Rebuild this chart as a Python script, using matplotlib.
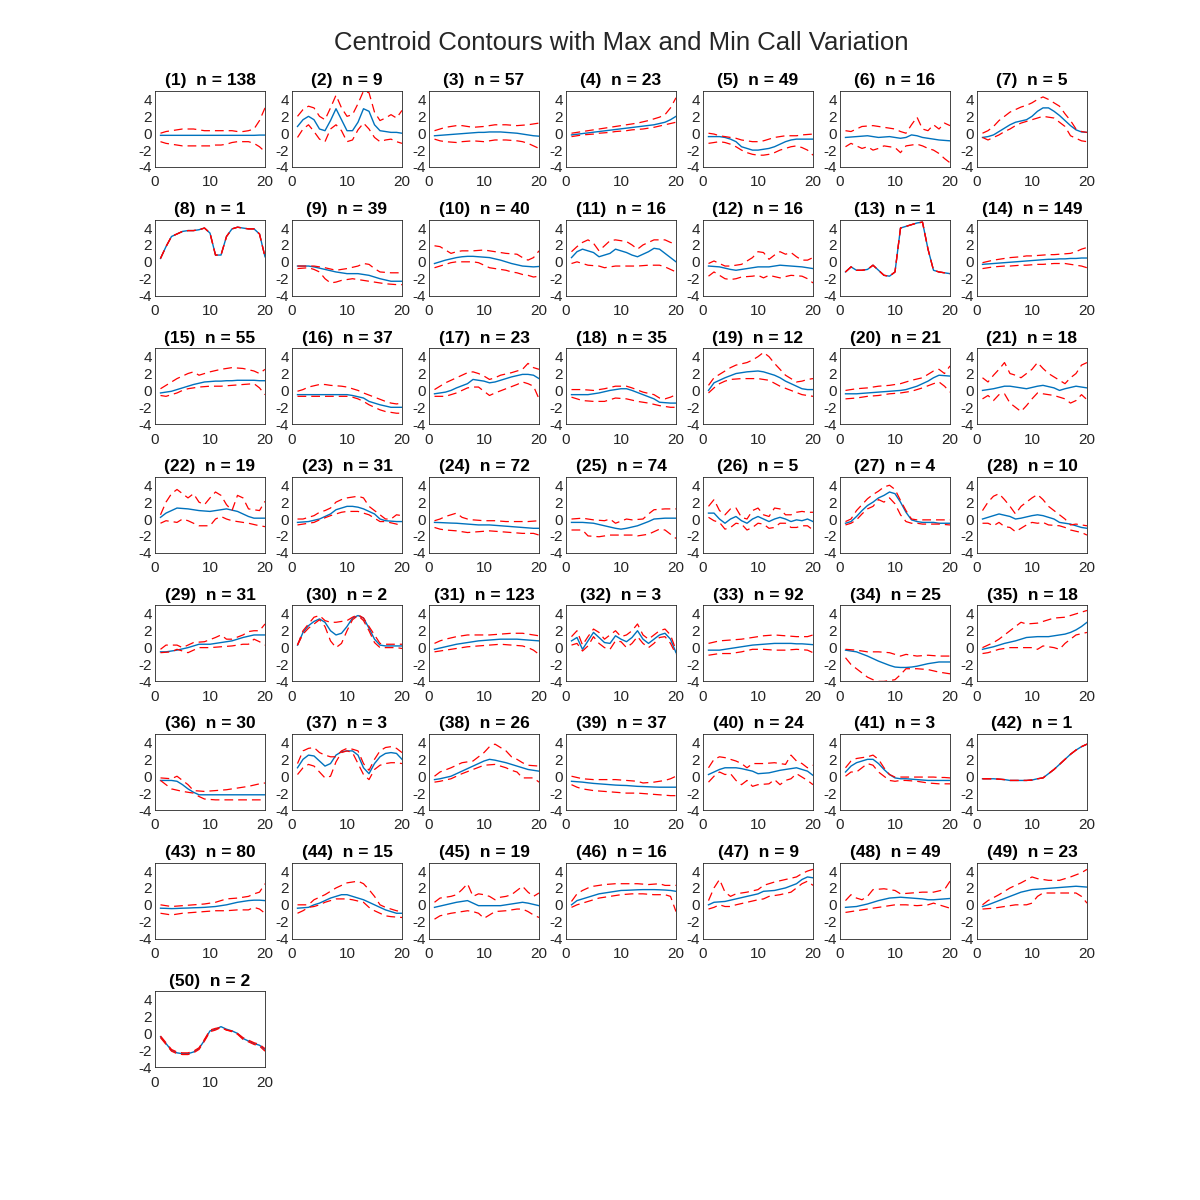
import matplotlib
matplotlib.use("Agg")
import matplotlib.pyplot as plt

plt.rcParams["font.family"] = ["Liberation Sans", "DejaVu Sans"]
plt.rcParams["axes.unicode_minus"] = False

# eje x comun: puntos del contorno 1..20
x = list(range(1, 21))

n_calls = [138, 9, 57, 23, 49, 16, 5, 1, 39, 40, 16, 16, 1, 149, 55, 37, 23, 35, 12, 21,
           18, 19, 31, 72, 74, 5, 4, 10, 31, 2, 123, 3, 92, 25, 18, 30, 3, 26, 37, 24,
           3, 1, 80, 15, 19, 16, 9, 49, 23, 2]

# centroide / maximo / minimo de cada grupo
cen_01 = [-0.25]*18 + [-0.22, -0.22]
max_01 = [0.0, 0.2, 0.3, 0.4, 0.5, 0.5, 0.5, 0.4, 0.3, 0.3, 0.3, 0.3, 0.3, 0.3, 0.2, 0.2, 0.3, 0.5, 1.5, 3.0]
min_01 = [-1.0, -1.2, -1.3, -1.4, -1.5, -1.5, -1.5, -1.5, -1.5, -1.5, -1.4, -1.4, -1.3, -1.1, -1.0, -1.0, -1.0, -1.2, -1.6, -2.2]

cen_02 = [0.8, 1.6, 2.0, 1.6, 0.5, 0.3, 1.5, 2.9, 1.6, 0.3, 0.3, 1.3, 2.9, 2.6, 1.0, 0.3, 0.2, 0.1, 0.1, 0.0]
max_02 = [2.0, 2.8, 3.2, 3.0, 2.0, 1.6, 3.0, 4.5, 3.0, 2.0, 2.2, 3.5, 5.0, 4.8, 2.5, 1.5, 1.8, 2.2, 1.8, 2.7]
min_02 = [-0.5, 0.5, 1.0, 0.2, -0.7, -1.0, 0.5, 1.0, 0.3, -1.0, -0.8, 0.4, 1.2, 0.5, -0.5, -1.0, -0.8, -0.7, -1.0, -1.2]

cen_03 = [-0.3, -0.25, -0.2, -0.15, -0.1, -0.05, 0.0, 0.05, 0.1, 0.1, 0.15, 0.15, 0.15, 0.1, 0.05, 0.0, -0.1, -0.2, -0.3, -0.35]
max_03 = [0.3, 0.5, 0.7, 0.8, 0.9, 0.9, 0.8, 0.7, 0.75, 0.8, 0.9, 1.0, 1.0, 1.0, 0.95, 0.9, 0.95, 1.0, 1.1, 1.2]
min_03 = [-0.7, -0.9, -1.0, -1.05, -1.1, -1.0, -0.95, -0.9, -0.95, -1.0, -0.9, -0.8, -0.8, -0.8, -0.85, -0.9, -1.0, -1.2, -1.5, -1.8]

cen_04 = [-0.2, -0.12, -0.04, 0.04, 0.12, 0.2, 0.28, 0.36, 0.44, 0.52, 0.6, 0.68, 0.76, 0.84, 0.92, 1.0, 1.15, 1.3, 1.6, 2.0]
max_04 = [0.0, 0.1, 0.2, 0.3, 0.4, 0.5, 0.6, 0.7, 0.8, 0.9, 1.0, 1.1, 1.2, 1.35, 1.5, 1.7, 1.9, 2.2, 3.0, 4.2]
min_04 = [-0.4, -0.3, -0.2, -0.15, -0.1, 0.0, 0.05, 0.1, 0.2, 0.25, 0.3, 0.4, 0.45, 0.5, 0.6, 0.7, 0.85, 1.0, 1.15, 1.3]

cen_05 = [-0.4, -0.4, -0.4, -0.5, -0.7, -1.0, -1.6, -1.8, -2.0, -2.0, -1.9, -1.8, -1.6, -1.3, -1.0, -0.8, -0.7, -0.7, -0.7, -0.7]
max_05 = [0.0, -0.1, -0.3, -0.4, -0.5, -0.6, -0.8, -0.9, -1.0, -1.0, -0.9, -0.7, -0.5, -0.4, -0.3, -0.3, -0.3, -0.2, -0.15, -0.1]
min_05 = [-1.2, -1.1, -1.0, -1.1, -1.3, -1.6, -2.0, -2.3, -2.5, -2.6, -2.6, -2.5, -2.3, -2.0, -1.8, -1.6, -1.5, -1.7, -2.0, -2.6]

cen_06 = [-0.5, -0.45, -0.4, -0.35, -0.3, -0.4, -0.5, -0.45, -0.4, -0.5, -0.6, -0.5, -0.2, -0.3, -0.5, -0.6, -0.7, -0.8, -0.85, -0.9]
max_06 = [0.3, 0.2, 0.5, 0.8, 0.85, 0.9, 0.8, 0.7, 0.6, 0.5, 0.2, 0.0, 1.0, 1.9, 0.5, 0.3, 1.0, 0.5, 1.2, 0.9]
min_06 = [-1.6, -1.2, -1.5, -1.8, -1.6, -2.0, -1.8, -1.5, -1.6, -1.7, -2.3, -1.5, -1.4, -1.3, -1.5, -1.8, -2.0, -2.4, -3.0, -3.5]

cen_07 = [-0.5, -0.4, -0.2, 0.2, 0.6, 1.0, 1.3, 1.45, 1.6, 2.0, 2.6, 3.0, 3.0, 2.6, 2.1, 1.5, 0.9, 0.4, 0.15, 0.1]
max_07 = [0.0, 0.3, 0.8, 1.5, 2.0, 2.5, 2.8, 3.1, 3.3, 3.6, 4.0, 4.3, 4.0, 3.6, 3.2, 2.3, 1.5, 0.5, 0.2, 0.1]
min_07 = [-0.5, -0.8, -0.5, -0.2, 0.2, 0.5, 0.9, 1.2, 1.4, 1.6, 1.8, 2.0, 1.9, 1.8, 1.3, 0.8, -0.3, -0.6, -0.9, -1.0]

cen_08 = [0.4, 1.8, 3.0, 3.3, 3.6, 3.7, 3.7, 3.8, 4.0, 3.4, 0.8, 0.8, 3.0, 3.9, 4.1, 4.0, 3.9, 3.9, 3.3, 0.6]
max_08 = cen_08
min_08 = cen_08

cen_09 = [-0.5, -0.5, -0.5, -0.6, -0.75, -0.9, -1.05, -1.2, -1.3, -1.4, -1.4, -1.4, -1.5, -1.6, -1.8, -2.0, -2.15, -2.3, -2.3, -2.3]
max_09 = [-0.5, -0.5, -0.5, -0.5, -0.6, -0.7, -0.85, -1.0, -0.9, -0.8, -0.65, -0.5, -0.2, -0.3, -0.8, -1.2, -1.25, -1.3, -1.3, -1.3]
min_09 = [-0.8, -0.75, -0.7, -0.9, -1.2, -2.0, -2.5, -2.4, -2.2, -2.1, -2.0, -2.1, -2.2, -2.3, -2.4, -2.5, -2.6, -2.65, -2.7, -2.7]

cen_10 = [-0.2, 0.0, 0.2, 0.35, 0.5, 0.6, 0.65, 0.65, 0.6, 0.55, 0.5, 0.35, 0.2, 0.0, -0.2, -0.35, -0.5, -0.55, -0.6, -0.55]
max_10 = [1.9, 1.8, 1.4, 1.0, 1.2, 1.3, 1.3, 1.3, 1.35, 1.4, 1.3, 1.2, 1.1, 1.0, 0.95, 0.9, 0.5, 0.2, 0.5, 1.3]
min_10 = [-0.7, -0.5, -0.3, -0.1, 0.0, 0.0, 0.0, 0.0, -0.1, -0.4, -0.7, -0.8, -0.9, -1.0, -1.2, -1.3, -1.5, -1.6, -1.8, -1.7]

cen_11 = [0.5, 1.2, 1.5, 1.3, 1.1, 0.6, 0.8, 1.0, 1.5, 1.3, 1.1, 0.8, 0.6, 0.9, 1.2, 1.6, 1.5, 1.0, 0.5, 0.0]
max_11 = [1.2, 1.8, 2.3, 2.6, 2.2, 1.3, 1.9, 2.5, 2.6, 2.5, 2.4, 2.0, 1.5, 2.0, 2.3, 2.6, 2.6, 2.6, 2.3, 2.1]
min_11 = [-0.2, 0.0, -0.2, -0.4, -0.45, -0.5, -0.7, -0.6, -0.5, -0.5, -0.5, -0.5, -0.5, -0.45, -0.4, -0.4, -0.4, -0.6, -0.9, -1.2]

cen_12 = [-0.5, -0.55, -0.6, -0.75, -0.9, -1.0, -0.9, -0.8, -0.7, -0.6, -0.6, -0.6, -0.5, -0.4, -0.45, -0.5, -0.55, -0.6, -0.7, -0.8]
max_12 = [-0.2, 0.1, -0.2, -0.5, -0.5, -0.4, -0.3, 0.1, 0.5, 1.2, 1.1, 0.3, 0.8, 1.2, 0.9, 1.1, 0.6, 0.2, 0.2, 0.5]
min_12 = [-1.7, -1.2, -1.6, -2.0, -2.1, -2.0, -1.8, -1.75, -1.7, -1.6, -1.9, -1.6, -1.75, -1.9, -1.75, -1.6, -1.65, -1.7, -2.0, -2.5]

cen_13 = [-1.2, -0.6, -1.0, -1.0, -0.9, -0.4, -1.0, -1.6, -1.7, -1.2, 4.0, 4.2, 4.4, 4.6, 4.7, 1.5, -1.0, -1.2, -1.3, -1.4]
max_13 = cen_13
min_13 = cen_13

cen_14 = [-0.3, -0.25, -0.2, -0.15, -0.1, -0.05, 0.0, 0.05, 0.1, 0.15, 0.2, 0.25, 0.3, 0.3, 0.35, 0.35, 0.4, 0.4, 0.45, 0.45]
max_14 = [-0.1, 0.05, 0.2, 0.3, 0.4, 0.5, 0.55, 0.6, 0.7, 0.7, 0.75, 0.8, 0.85, 0.85, 0.9, 0.95, 1.0, 1.2, 1.5, 1.7]
min_14 = [-0.8, -0.7, -0.6, -0.55, -0.5, -0.5, -0.45, -0.4, -0.4, -0.35, -0.3, -0.3, -0.25, -0.2, -0.2, -0.2, -0.3, -0.4, -0.5, -0.7]

cen_15 = [-0.3, -0.2, -0.1, 0.1, 0.3, 0.5, 0.7, 0.85, 1.0, 1.05, 1.1, 1.1, 1.15, 1.15, 1.2, 1.2, 1.2, 1.2, 1.15, 1.15]
max_15 = [0.2, 0.6, 1.0, 1.4, 1.7, 2.0, 2.2, 1.8, 2.0, 2.2, 2.35, 2.5, 2.6, 2.7, 2.65, 2.6, 2.45, 2.3, 2.0, 2.5]
min_15 = [-0.6, -0.7, -0.5, -0.3, 0.0, 0.2, 0.3, 0.4, 0.45, 0.5, 0.5, 0.5, 0.55, 0.6, 0.65, 0.7, 0.75, 0.8, 0.3, -0.5]

cen_16 = [-0.5]*10 + [-0.6, -0.75, -0.9, -1.3, -1.5, -1.7, -1.85, -2.0, -2.0, -2.0]
max_16 = [-0.1, 0.1, 0.4, 0.55, 0.7, 0.7, 0.6, 0.55, 0.5, 0.4, 0.2, 0.0, -0.3, -0.55, -0.8, -1.05, -1.3, -1.5, -1.6, -1.5]
min_16 = [-0.7]*10 + [-0.8, -1.0, -1.3, -1.7, -2.0, -2.3, -2.5, -2.6, -2.7, -2.7]

cen_17 = [-0.4, -0.3, -0.2, 0.0, 0.3, 0.55, 0.8, 1.3, 1.2, 1.1, 0.9, 1.0, 1.2, 1.4, 1.6, 1.75, 1.9, 1.9, 1.8, 1.4]
max_17 = [0.1, 0.5, 0.9, 1.2, 1.5, 1.8, 2.1, 2.2, 2.0, 1.7, 1.3, 1.5, 1.8, 1.95, 2.1, 2.3, 2.5, 3.2, 2.7, 2.5]
min_17 = [-0.7, -0.7, -0.7, -0.5, -0.3, 0.0, 0.3, 0.4, 0.4, -0.1, -0.6, -0.3, -0.05, 0.2, 0.45, 0.7, 1.0, 0.8, 0.5, -1.0]

cen_18 = [-0.5, -0.5, -0.5, -0.5, -0.4, -0.3, -0.15, 0.0, 0.1, 0.2, 0.2, 0.0, -0.25, -0.5, -0.75, -1.0, -1.4, -1.45, -1.5, -1.5]
max_18 = [0.1, 0.1, 0.1, 0.05, 0.0, 0.1, 0.2, 0.35, 0.5, 0.5, 0.5, 0.3, 0.05, -0.2, -0.35, -0.5, -0.9, -1.0, -0.8, -0.5]
min_18 = [-0.8, -1.0, -1.2, -1.25, -1.3, -1.3, -1.3, -1.1, -0.9, -0.95, -1.0, -1.15, -1.3, -1.4, -1.5, -1.65, -1.8, -1.9, -2.0, -2.0]

cen_19 = [0.0, 0.9, 1.2, 1.5, 1.75, 2.0, 2.1, 2.2, 2.25, 2.3, 2.2, 2.0, 1.8, 1.5, 1.1, 0.8, 0.5, 0.2, 0.1, 0.1]
max_19 = [0.6, 1.5, 1.9, 2.3, 2.7, 3.0, 3.15, 3.3, 3.6, 4.0, 4.5, 4.0, 3.2, 2.5, 1.8, 1.4, 1.0, 1.1, 1.3, 1.4]
min_19 = [-0.3, 0.3, 0.8, 1.1, 1.3, 1.35, 1.4, 1.4, 1.4, 1.4, 1.3, 1.2, 0.85, 0.5, 0.25, 0.0, -0.25, -0.5, -0.6, -0.7]

cen_20 = [-0.4, -0.4, -0.4, -0.35, -0.3, -0.25, -0.2, -0.15, -0.1, -0.05, 0.0, 0.1, 0.3, 0.5, 0.8, 1.1, 1.5, 1.8, 1.75, 1.7]
max_20 = [0.0, 0.1, 0.2, 0.25, 0.3, 0.4, 0.5, 0.55, 0.6, 0.7, 0.8, 1.0, 1.2, 1.35, 1.5, 1.9, 2.3, 2.5, 2.0, 2.9]
min_20 = [-1.0, -0.95, -0.9, -0.8, -0.7, -0.65, -0.6, -0.5, -0.4, -0.35, -0.3, -0.2, -0.1, 0.1, 0.3, 0.55, 0.8, 1.0, 0.5, -0.2]

cen_21 = [0.0, 0.1, 0.2, 0.35, 0.5, 0.5, 0.4, 0.3, 0.2, 0.35, 0.5, 0.6, 0.45, 0.3, 0.0, 0.2, 0.35, 0.5, 0.4, 0.3]
max_21 = [1.5, 1.0, 1.8, 2.5, 3.3, 2.0, 1.8, 1.5, 2.0, 2.5, 3.3, 2.6, 2.0, 1.6, 1.2, 0.8, 1.5, 2.0, 3.0, 3.3]
min_21 = [-1.0, -0.6, -1.2, -0.5, -0.4, -1.5, -2.0, -2.5, -1.8, -1.0, -0.3, -0.4, -0.5, -0.6, -0.8, -1.0, -1.5, -1.2, -0.5, -1.1]

cen_22 = [0.2, 0.7, 1.0, 1.3, 1.25, 1.2, 1.1, 1.0, 0.95, 0.9, 1.0, 1.1, 1.2, 1.05, 0.9, 0.6, 0.3, 0.1, 0.1, 0.1]
max_22 = [0.5, 2.0, 3.0, 3.5, 3.0, 2.5, 3.0, 2.0, 1.7, 2.5, 3.2, 2.8, 1.7, 1.0, 2.8, 2.5, 1.2, 1.1, 1.0, 2.1]
min_22 = [-0.5, -0.2, -0.3, -0.4, 0.0, -0.2, -0.5, -0.8, -0.8, -0.8, 0.0, 0.3, 0.0, -0.2, -0.3, -0.4, -0.5, -0.65, -0.8, -0.9]

cen_23 = [-0.4, -0.35, -0.3, -0.15, 0.0, 0.3, 0.6, 1.1, 1.3, 1.5, 1.5, 1.4, 1.2, 0.9, 0.6, 0.0, -0.2, -0.25, -0.3, -0.3]
max_23 = [0.0, 0.0, 0.2, 0.4, 0.8, 1.0, 1.3, 2.0, 2.3, 2.5, 2.6, 2.7, 2.5, 1.5, 1.0, 0.5, 0.0, 0.0, 0.5, 0.4]
min_23 = [-0.7, -0.6, -0.5, -0.4, -0.1, 0.15, 0.4, 0.6, 0.8, 0.9, 0.9, 0.9, 0.7, 0.5, 0.1, -0.3, -0.3, -0.45, -0.6, -0.8]

cen_24 = [-0.4, -0.42, -0.45, -0.48, -0.5, -0.55, -0.6, -0.65, -0.7, -0.7, -0.7, -0.75, -0.8, -0.85, -0.9, -0.95, -1.0, -1.05, -1.1, -1.1]
max_24 = [-0.2, 0.0, 0.3, 0.5, 0.7, 0.2, 0.0, -0.1, -0.15, -0.2, -0.2, -0.2, -0.25, -0.3, -0.3, -0.3, -0.3, -0.3, -0.25, -0.2]
min_24 = [-1.0, -1.2, -1.3, -1.35, -1.4, -1.5, -1.6, -1.55, -1.5, -1.45, -1.4, -1.45, -1.5, -1.55, -1.6, -1.65, -1.7, -1.7, -1.7, -1.9]

cen_25 = [-0.4, -0.4, -0.4, -0.45, -0.5, -0.65, -0.8, -0.95, -1.1, -1.2, -1.1, -0.95, -0.8, -0.55, -0.3, 0.0, 0.05, 0.1, 0.1, 0.1]
max_25 = [0.0, 0.05, 0.1, 0.0, -0.1, -0.15, -0.2, 0.0, -0.5, -0.25, 0.0, -0.1, -0.05, 0.0, 0.6, 1.1, 1.15, 1.2, 1.2, 1.2]
min_25 = [-1.3, -1.3, -1.3, -2.0, -2.05, -2.1, -2.0, -1.9, -1.9, -1.9, -1.9, -1.9, -2.0, -1.9, -1.8, -1.5, -1.2, -1.3, -1.8, -2.3]

cen_26 = [0.7, 0.7, 0.0, -0.5, 0.0, 0.3, -0.2, -0.5, 0.0, 0.3, 0.0, -0.3, 0.0, 0.2, 0.0, -0.3, -0.1, -0.2, 0.0, -0.3]
max_26 = [1.5, 2.3, 1.0, 0.5, 1.2, 1.3, 0.2, 0.0, 1.0, 1.3, 0.5, 0.3, 1.3, 1.2, 0.5, 0.5, 0.8, 0.9, 0.8, 0.8]
min_26 = [0.2, -0.2, -0.4, -1.2, -1.0, -0.5, -0.6, -1.3, -1.0, -0.5, -0.6, -1.1, -1.0, -0.5, -0.5, -1.0, -1.0, -0.8, -0.8, -1.3]

cen_27 = [-0.5, -0.3, 0.3, 1.0, 1.6, 2.0, 2.5, 2.8, 3.2, 3.0, 2.0, 0.8, -0.1, -0.3, -0.4, -0.4, -0.4, -0.5, -0.5, -0.5]
max_27 = [-0.3, 0.0, 1.0, 1.7, 2.4, 2.9, 3.3, 3.8, 4.0, 3.5, 2.2, 1.0, 0.0, -0.1, -0.1, -0.1, -0.1, -0.1, -0.1, -0.1]
min_27 = [-0.7, -0.5, -0.1, 0.6, 1.2, 1.5, 2.3, 2.0, 2.5, 1.8, 0.5, -0.3, -0.5, -0.5, -0.6, -0.6, -0.6, -0.6, -0.65, -0.7]

cen_28 = [0.0, 0.2, 0.4, 0.6, 0.45, 0.3, 0.0, 0.1, 0.25, 0.4, 0.5, 0.4, 0.2, 0.0, -0.4, -0.5, -0.6, -0.8, -1.0, -1.1]
max_28 = [1.0, 2.0, 2.7, 3.0, 2.3, 1.5, 0.6, 1.5, 2.0, 2.5, 2.9, 2.3, 1.5, 1.0, 0.5, 0.0, -0.7, -0.6, -0.7, -0.8]
min_28 = [-0.5, -0.5, -0.8, -0.4, -0.9, -1.0, -1.5, -1.1, -0.7, -0.4, -0.5, -0.4, -0.7, -0.75, -0.8, -1.0, -1.3, -1.45, -1.6, -1.9]

cen_29 = [-0.5, -0.5, -0.4, -0.3, -0.15, 0.0, 0.2, 0.4, 0.4, 0.4, 0.5, 0.6, 0.7, 0.8, 1.0, 1.2, 1.35, 1.5, 1.5, 1.5]
max_29 = [-0.2, 0.3, 0.3, 0.3, 0.0, 0.3, 0.6, 0.65, 0.7, 0.95, 1.2, 1.5, 1.0, 1.0, 1.25, 1.5, 1.9, 2.0, 2.0, 2.8]
min_29 = [-0.6, -0.55, -0.5, -0.2, -0.4, -0.6, -0.3, 0.0, 0.0, 0.0, 0.05, 0.1, 0.15, 0.2, 0.3, 0.4, 0.4, 1.0, 0.7, 0.3]

cen_30 = [0.3, 1.8, 2.6, 3.1, 3.4, 3.0, 2.0, 1.5, 1.7, 2.5, 3.5, 3.8, 3.5, 2.3, 1.0, 0.3, 0.2, 0.2, 0.2, 0.2]
max_30 = [0.3, 2.0, 2.8, 3.6, 3.8, 3.2, 3.0, 3.0, 3.1, 3.2, 3.6, 3.9, 3.5, 2.5, 1.5, 0.5, 0.4, 0.4, 0.4, 0.4]
min_30 = [0.3, 1.6, 2.3, 2.8, 3.3, 2.5, 0.8, 0.0, 0.5, 2.0, 3.3, 3.8, 3.2, 2.0, 0.6, 0.0, 0.0, 0.0, 0.0, -0.1]

cen_31 = [-0.2, -0.05, 0.1, 0.25, 0.4, 0.5, 0.6, 0.7, 0.8, 0.85, 0.9, 0.95, 1.0, 1.0, 1.0, 1.0, 0.95, 0.9, 0.85, 0.8]
max_31 = [0.5, 0.8, 1.0, 1.15, 1.3, 1.4, 1.5, 1.5, 1.5, 1.5, 1.5, 1.55, 1.6, 1.65, 1.7, 1.7, 1.7, 1.6, 1.5, 1.4]
min_31 = [-0.5, -0.4, -0.3, -0.2, -0.1, 0.0, 0.1, 0.15, 0.2, 0.25, 0.3, 0.35, 0.4, 0.35, 0.3, 0.25, 0.2, 0.0, -0.3, -0.8]

cen_32 = [0.8, 1.2, -0.2, 0.8, 1.8, 1.2, 0.6, 0.5, 1.4, 1.0, 0.7, 1.2, 2.0, 1.0, 0.5, 1.0, 1.5, 1.7, 1.0, -0.6]
max_32 = [1.3, 2.0, 0.3, 1.3, 2.2, 1.8, 1.0, 1.5, 2.0, 1.3, 1.5, 2.0, 2.8, 1.5, 1.0, 1.5, 2.0, 2.2, 1.5, -0.3]
min_32 = [0.3, 0.5, -0.4, 0.2, 1.3, 0.5, 0.0, -0.2, 0.8, 0.7, 0.0, 0.5, 1.3, 0.5, 0.0, 0.5, 1.2, 1.3, 0.5, -0.8]

cen_33 = [-0.3, -0.3, -0.3, -0.2, -0.1, 0.0, 0.1, 0.2, 0.3, 0.35, 0.4, 0.45, 0.5, 0.5, 0.5, 0.5, 0.45, 0.45, 0.4, 0.35]
max_33 = [0.5, 0.65, 0.8, 0.85, 0.9, 0.95, 1.0, 1.1, 1.2, 1.3, 1.4, 1.45, 1.5, 1.45, 1.4, 1.35, 1.3, 1.3, 1.3, 1.5]
min_33 = [-0.9, -0.8, -0.7, -0.7, -0.7, -0.6, -0.5, -0.35, -0.2, -0.2, -0.2, -0.25, -0.3, -0.3, -0.3, -0.25, -0.2, -0.25, -0.3, -0.6]

cen_34 = [-0.3, -0.4, -0.5, -0.75, -1.0, -1.3, -1.6, -1.85, -2.1, -2.3, -2.35, -2.35, -2.3, -2.2, -2.05, -1.9, -1.8, -1.7, -1.7, -1.7]
max_34 = [-0.2, -0.25, -0.3, -0.4, -0.5, -0.5, -0.5, -0.55, -0.6, -0.8, -1.0, -0.8, -0.9, -1.0, -0.95, -0.9, -0.95, -1.0, -1.0, -1.0]
min_34 = [-1.2, -2.0, -2.5, -3.0, -3.5, -3.8, -4.0, -4.0, -3.9, -3.8, -3.2, -2.5, -2.5, -2.5, -2.55, -2.6, -2.75, -2.9, -3.0, -3.1]

cen_35 = [-0.2, -0.05, 0.1, 0.3, 0.5, 0.65, 0.8, 1.0, 1.2, 1.25, 1.3, 1.3, 1.3, 1.4, 1.5, 1.6, 1.8, 2.1, 2.5, 3.0]
max_35 = [0.0, 0.3, 0.6, 1.0, 1.5, 2.0, 2.5, 3.0, 2.8, 2.85, 2.9, 3.1, 3.3, 3.5, 3.55, 3.6, 3.8, 4.0, 4.2, 4.4]
min_35 = [-0.7, -0.6, -0.4, -0.2, -0.1, 0.0, 0.0, 0.0, 0.0, 0.0, -0.2, 0.2, 0.1, 0.0, -0.2, 0.5, 1.0, 1.5, 1.65, 1.8]

cen_36 = [-0.5, -0.5, -0.5, -0.6, -1.0, -1.5, -1.9, -2.2] + [-2.2]*12
max_36 = [-0.2, -0.25, -0.3, 0.0, -0.5, -1.0, -1.7, -1.75, -1.8, -1.75, -1.7, -1.65, -1.6, -1.5, -1.4, -1.3, -1.2, -1.05, -0.9, -0.8]
min_36 = [-0.5, -1.0, -1.5, -1.65, -1.8, -1.9, -2.0, -2.4, -2.7, -2.75] + [-2.8]*10

cen_37 = [1.0, 2.0, 2.5, 2.4, 1.8, 1.2, 1.5, 2.5, 2.9, 3.0, 3.0, 2.5, 1.0, 0.3, 1.5, 2.3, 2.7, 2.8, 2.7, 2.0]
max_37 = [1.5, 3.0, 3.3, 3.4, 2.8, 2.5, 2.3, 2.3, 3.0, 3.3, 3.2, 3.0, 1.5, 0.7, 2.0, 3.0, 3.4, 3.5, 3.3, 2.8]
min_37 = [0.2, 1.0, 1.4, 1.2, 0.5, -0.2, 0.0, 1.7, 2.8, 3.0, 2.8, 1.5, 0.2, -0.4, 0.8, 1.3, 1.5, 1.6, 1.6, 1.5]

cen_38 = [-0.4, -0.3, -0.15, 0.0, 0.3, 0.6, 0.9, 1.2, 1.5, 1.8, 2.0, 1.9, 1.75, 1.6, 1.4, 1.2, 1.0, 0.8, 0.7, 0.6]
max_38 = [0.0, 0.5, 0.75, 1.0, 1.3, 1.6, 1.7, 1.8, 2.3, 2.8, 3.5, 3.8, 3.4, 3.0, 2.3, 2.0, 1.6, 1.3, 1.25, 1.2]
min_38 = [-0.7, -0.6, -0.45, -0.3, 0.0, 0.3, 0.55, 0.8, 1.05, 1.3, 1.35, 1.4, 1.2, 1.0, 0.7, 0.5, -0.2, -0.2, -0.2, -0.7]

cen_39 = [-0.6, -0.65, -0.7, -0.78, -0.85, -0.9, -0.95, -1.0, -1.05, -1.08, -1.1, -1.15, -1.2, -1.22, -1.25, -1.28, -1.3, -1.3, -1.3, -1.3]
max_39 = [0.0, -0.15, -0.3, -0.35, -0.4, -0.4, -0.4, -0.4, -0.4, -0.45, -0.5, -0.55, -0.6, -0.8, -0.75, -0.7, -0.6, -0.5, -0.3, 0.0]
min_39 = [-1.0, -1.3, -1.5, -1.6, -1.7, -1.75, -1.8, -1.85, -1.9, -1.95, -2.0, -2.0, -2.0, -2.05, -2.1, -2.15, -2.2, -2.25, -2.3, -2.3]

cen_40 = [0.2, 0.5, 0.8, 1.0, 1.0, 1.0, 0.9, 0.75, 0.6, 0.3, 0.35, 0.4, 0.55, 0.7, 0.8, 0.9, 1.0, 0.8, 0.6, 0.1]
max_40 = [1.0, 2.0, 2.3, 2.2, 2.0, 1.8, 1.5, 1.0, 1.5, 1.5, 1.5, 1.55, 1.6, 1.5, 1.4, 2.5, 1.8, 1.5, 1.0, 1.3]
min_40 = [-0.7, 0.0, 0.5, 0.2, 0.3, -0.5, -1.0, -0.5, -1.2, -1.0, -0.95, -0.9, -0.4, -1.0, -0.5, -0.3, 0.3, -0.1, -0.5, -1.0]

cen_41 = [0.5, 1.2, 1.6, 1.8, 2.0, 2.0, 1.5, 0.8, 0.2, -0.2, -0.3, -0.3, -0.35, -0.4, -0.45, -0.5, -0.5, -0.5, -0.5, -0.5]
max_41 = [1.0, 1.8, 2.1, 2.2, 2.3, 2.5, 2.0, 1.0, 0.2, -0.1, -0.1, -0.1, -0.1, -0.1, -0.1, -0.1, -0.1, -0.15, -0.15, -0.2]
min_41 = [0.0, 0.5, 0.5, 1.0, 1.5, 1.3, 0.5, 0.0, -0.5, -0.6, -0.5, -0.5, -0.55, -0.6, -0.7, -0.8, -0.85, -0.9, -0.9, -0.9]

cen_42 = [-0.3, -0.3, -0.3, -0.35, -0.4, -0.5, -0.5, -0.5, -0.5, -0.45, -0.3, -0.2, 0.3, 0.8, 1.4, 2.0, 2.6, 3.1, 3.5, 3.8]
max_42 = cen_42
min_42 = cen_42

cen_43 = [-0.4, -0.42, -0.45, -0.43, -0.4, -0.38, -0.35, -0.33, -0.3, -0.25, -0.2, -0.1, 0.0, 0.15, 0.3, 0.4, 0.5, 0.55, 0.55, 0.5]
max_43 = [0.0, -0.1, -0.2, -0.15, -0.1, -0.05, 0.0, 0.05, 0.1, 0.2, 0.3, 0.5, 0.7, 0.75, 0.8, 0.9, 1.0, 1.3, 1.5, 2.5]
min_43 = [-1.0, -1.1, -1.2, -1.1, -1.0, -0.95, -0.9, -0.85, -0.8, -0.75, -0.7, -0.7, -0.7, -0.65, -0.6, -0.6, -0.6, -0.3, -0.5, -1.0]

cen_44 = [-0.4, -0.35, -0.3, 0.0, 0.2, 0.5, 0.8, 1.0, 1.2, 1.2, 1.0, 0.8, 0.6, 0.3, 0.0, -0.3, -0.6, -0.8, -1.0, -1.0]
max_44 = [0.0, 0.0, 0.0, 0.6, 0.9, 1.2, 1.6, 2.0, 2.3, 2.6, 2.7, 2.8, 2.5, 1.8, 1.0, 0.0, -0.3, -0.5, -0.7, -0.8]
min_44 = [-1.0, -0.7, -0.3, -0.2, 0.0, 0.3, 0.5, 0.7, 0.7, 0.7, 0.6, 0.45, 0.3, -0.3, -0.7, -1.0, -1.3, -1.4, -1.45, -1.5]

cen_45 = [-0.3, -0.15, 0.0, 0.15, 0.3, 0.4, 0.5, 0.2, -0.1, -0.1, -0.1, -0.1, -0.1, 0.0, 0.1, 0.2, 0.3, 0.2, 0.05, -0.1]
max_45 = [0.3, 0.8, 0.9, 1.0, 1.2, 1.8, 2.5, 1.0, 1.3, 1.2, 1.0, 0.6, 0.9, 1.0, 1.2, 1.7, 2.2, 1.5, 1.0, 1.4]
min_45 = [-1.7, -1.3, -1.15, -1.0, -0.9, -0.8, -0.7, -0.8, -1.0, -1.6, -1.2, -0.8, -0.75, -0.7, -0.6, -0.5, -0.5, -0.8, -1.2, -1.5]

cen_46 = [0.0, 0.5, 0.7, 0.9, 1.1, 1.3, 1.4, 1.5, 1.6, 1.7, 1.72, 1.75, 1.78, 1.8, 1.8, 1.8, 1.78, 1.75, 1.7, 1.6]
max_46 = [0.4, 1.3, 1.7, 2.0, 2.2, 2.3, 2.4, 2.45, 2.5, 2.5, 2.5, 2.5, 2.5, 2.45, 2.4, 2.45, 2.5, 2.3, 2.3, 2.3]
min_46 = [-0.3, 0.0, 0.2, 0.4, 0.6, 0.8, 0.9, 1.0, 1.1, 1.2, 1.25, 1.3, 1.3, 1.3, 1.25, 1.2, 1.2, 1.2, 1.0, -0.8]

cen_47 = [0.0, 0.3, 0.35, 0.4, 0.55, 0.7, 0.85, 1.0, 1.15, 1.3, 1.6, 1.65, 1.7, 1.85, 2.0, 2.25, 2.5, 3.0, 3.3, 3.2]
max_47 = [0.5, 2.0, 3.0, 1.5, 1.0, 1.3, 1.4, 1.5, 1.65, 1.8, 2.3, 2.5, 2.7, 2.85, 3.0, 3.15, 3.3, 3.7, 4.0, 4.2]
min_47 = [-0.5, -0.3, 0.0, -0.2, -0.2, 0.0, 0.15, 0.3, 0.45, 0.6, 0.7, 1.0, 1.1, 1.2, 1.35, 1.5, 2.0, 2.5, 2.8, 2.3]

cen_48 = [-0.3, -0.25, -0.2, -0.05, 0.1, 0.3, 0.5, 0.65, 0.8, 0.85, 0.9, 0.85, 0.8, 0.75, 0.7, 0.6, 0.6, 0.65, 0.7, 0.75]
max_48 = [0.5, 1.2, 0.8, 0.6, 1.0, 1.8, 1.85, 1.9, 1.8, 1.7, 1.3, 1.35, 1.4, 1.45, 1.5, 1.5, 1.5, 1.65, 1.8, 2.8]
min_48 = [-0.9, -0.8, -0.7, -0.6, -0.5, -0.4, -0.3, -0.2, -0.1, 0.0, 0.0, 0.0, -0.05, -0.1, -0.05, 0.0, 0.2, 0.0, -0.2, -0.4]

cen_49 = [-0.2, 0.0, 0.25, 0.5, 0.75, 1.0, 1.25, 1.5, 1.65, 1.8, 1.85, 1.9, 1.95, 2.0, 2.05, 2.1, 2.15, 2.2, 2.15, 2.1]
max_49 = [0.0, 0.5, 0.85, 1.2, 1.6, 2.0, 2.3, 2.6, 2.95, 3.3, 3.1, 3.0, 2.9, 2.9, 2.9, 3.1, 3.3, 3.55, 3.8, 4.2]
min_49 = [-0.5, -0.45, -0.4, -0.3, -0.2, -0.1, 0.0, 0.0, 0.0, 0.2, 1.0, 1.4, 1.4, 1.4, 1.4, 1.4, 1.4, 1.4, 1.0, 0.2]

cen_50 = [-0.4, -1.2, -2.0, -2.3, -2.4, -2.4, -2.2, -1.8, -0.8, 0.3, 0.5, 0.8, 0.5, 0.3, 0.0, -0.6, -0.9, -1.2, -1.4, -1.9]
max_50 = [-0.3, -1.1, -1.9, -2.2, -2.3, -2.3, -2.1, -1.7, -0.7, 0.4, 0.6, 0.7, 0.4, 0.3, 0.0, -0.5, -0.8, -1.1, -1.3, -1.8]
min_50 = [-0.5, -1.3, -2.1, -2.4, -2.5, -2.5, -2.3, -1.9, -0.9, 0.2, 0.4, 0.7, 0.4, 0.2, -0.1, -0.7, -1.0, -1.3, -1.5, -2.1]

g = globals()
centroids = [g["cen_%02d" % k] for k in range(1, 51)]
maxima = [g["max_%02d" % k] for k in range(1, 51)]
minima = [g["min_%02d" % k] for k in range(1, 51)]

fig = plt.figure(figsize=(12, 12), dpi=100)
fig.text(0.5175, 0.9645, "Centroid Contours with Max and Min Call Variation",
         ha="center", va="center", fontsize=18.5, color="#262626")

col_left = [155, 292, 429, 566, 703, 840, 977]
dark = "#262626"
for i in range(50):
    r, c = divmod(i, 7)
    top = 91 + r * 128.6
    ax = fig.add_axes([col_left[c] / 1200, 1 - (top + 76) / 1200, 110 / 1200, 76 / 1200])
    ax.plot(x, centroids[i], color="#0072BD", lw=1.0)
    ax.plot(x, maxima[i], color="red", lw=0.9, ls="--", dashes=(7, 4))
    ax.plot(x, minima[i], color="red", lw=0.9, ls="--", dashes=(7, 4))
    ax.set_xlim(0, 20)
    ax.set_ylim(-4, 5)
    ax.set_xticks([0, 10, 20])
    ax.set_yticks([-4, -2, 0, 2, 4])
    ax.tick_params(length=0, labelsize=11, colors=dark)
    ax.tick_params(axis="x", pad=6)
    ax.tick_params(axis="y", pad=2)
    for s in ax.spines.values():
        s.set_color(dark)
        s.set_linewidth(0.6)
    ax.set_title("(%d)  n = %d" % (i + 1, n_calls[i]), fontsize=12.5,
                 fontweight="bold", pad=4)

fig.savefig("out.png", dpi=100)
